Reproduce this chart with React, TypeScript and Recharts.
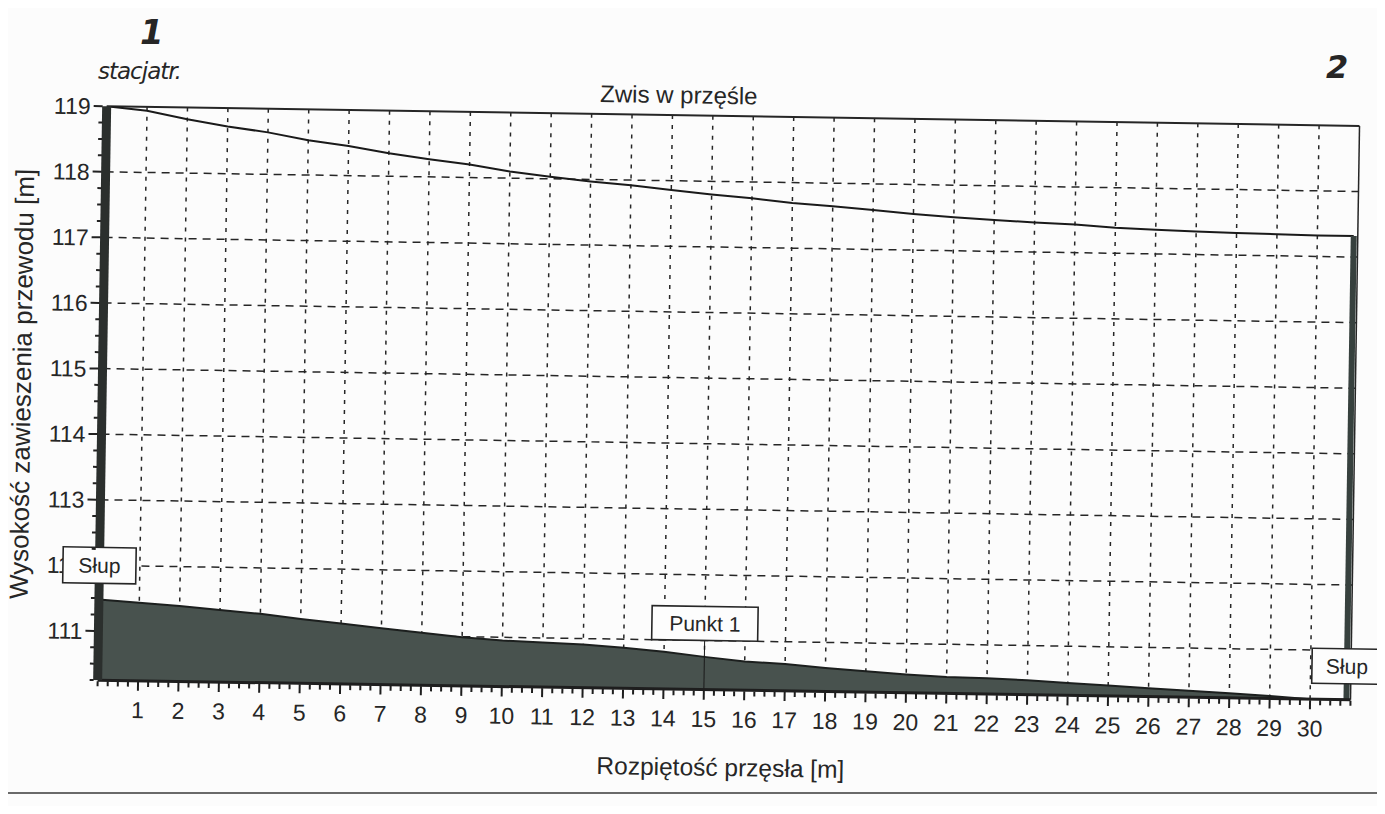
import React from 'react';
import {
  ComposedChart,
  Area,
  Line,
  XAxis,
  YAxis,
  CartesianGrid,
  ReferenceLine,
  ReferenceDot,
} from 'recharts';

// span position [m] and the two profiles
const spanX = [0, 1, 2, 3, 4, 5, 6, 7, 8, 9, 10, 11, 12, 13, 14, 15, 16, 17, 18, 19, 20, 21, 22, 23, 24, 25, 26, 27, 28, 29, 30, 30.9];
const conductor = [
  119.0, 118.94, 118.82, 118.72, 118.64, 118.53, 118.45, 118.35, 118.27, 118.2, 118.1,
  118.03, 117.97, 117.92, 117.86, 117.8, 117.75, 117.69, 117.65, 117.6, 117.55,
  117.51, 117.48, 117.45, 117.43, 117.39, 117.37, 117.35, 117.34, 117.33, 117.32, 117.32,
];
const ground = [
  111.48, 111.44, 111.4, 111.35, 111.3, 111.23, 111.17, 111.11, 111.05, 110.99, 110.95,
  110.93, 110.91, 110.87, 110.82, 110.75, 110.69, 110.66, 110.61, 110.57, 110.53,
  110.5, 110.49, 110.47, 110.44, 110.41, 110.38, 110.35, 110.32, 110.29, 110.25, 110.25,
];

const xTickValues = [1, 2, 3, 4, 5, 6, 7, 8, 9, 10, 11, 12, 13, 14, 15, 16, 17, 18, 19, 20, 21, 22, 23, 24, 25, 26, 27, 28, 29, 30];
const yTickValues = [111, 112, 113, 114, 115, 116, 117, 118, 119];
const xDomain = [0, 31];
const yDomain = [110.25, 119];

// annotations
const poleLabel = 'Słup';
const poleLabelY = [112, 110.76];
const pointLabel = 'Punkt 1';
const pointX = 15;
const pointLabelY = 111;

const rows = spanX.map((x, i) => ({ x, conductor: conductor[i], ground: ground[i] }));

// minor ticks every 0.25 m
const minorX = Array.from({ length: 125 }, (_, i) => i * 0.25);
const minorY = Array.from({ length: 36 }, (_, i) => yDomain[0] + i * 0.25);

const FONT = '"Liberation Sans", Arial, sans-serif';
const INK = '#262626';
const TICK_FONT = 23;

const LabelBox = ({ cx, cy, text, w, h, anchor }: any) => {
  const top = anchor === 'above' ? cy - h : cy - h / 2;
  return (
    <g>
      <rect x={cx - w / 2} y={top} width={w} height={h} fill="#fdfdfd" stroke={INK} strokeWidth={1.6} />
      <text x={cx} y={top + h / 2} dy="0.36em" textAnchor="middle" fontSize={21} fontFamily={FONT} fill={INK}>
        {text}
      </text>
    </g>
  );
};

// the x tick comb (majors longer) is drawn together with the labels
const renderXTick = (props: any) => {
  const { x, y, payload } = props;
  const v = payload.value;
  const major = xTickValues.includes(v);
  return (
    <g key={`xt-${v}`}>
      <rect x={x - 1} y={y + 1} width={2} height={major ? 9 : 5} fill="#1e1e1e" />
      {major && (
        <text x={x} y={y + 21} dy="0.71em" textAnchor="middle" fontSize={TICK_FONT} fontFamily={FONT} fill={INK}>
          {v}
        </text>
      )}
    </g>
  );
};

const renderYTick = (props: any) => {
  const { x, y, payload } = props;
  const v = payload.value;
  const major = yTickValues.includes(v);
  return (
    <g key={`yt-${v}`}>
      <path d={`M${x - 4},${y}H${x - (major ? 13 : 8)}`} stroke="#222" strokeWidth={2} fill="none" />
      {major && (
        <text x={x - 16} y={y} dy="0.36em" textAnchor="end" fontSize={TICK_FONT} fontFamily={FONT} fill={INK}>
          {v}
        </text>
      )}
      {v === poleLabelY[0] && <LabelBox cx={x} cy={y} text={poleLabel} w={73} h={36} anchor="center" />}
    </g>
  );
};

export default function App() {
  const rightX = spanX[spanX.length - 1];
  const rightTop = conductor[conductor.length - 1];

  return (
    <div style={{ margin: -8, width: 1385, height: 814, position: 'relative', overflow: 'hidden', background: '#fcfcfc', fontFamily: FONT, color: INK }}>
      {/* the printout sits slightly skewed on the scanner */}
      <div style={{ position: 'absolute', left: 0, top: 0, width: 1385, height: 814, transform: 'rotate(0.9deg)', transformOrigin: '727px 408px' }}>
        <div style={{ position: 'absolute', left: 674, top: 96, transform: 'translate(-50%, -50%)', fontSize: 24, whiteSpace: 'nowrap' }}>
          Zwis w przęśle
        </div>
        <div style={{ position: 'absolute', left: 726, top: 768, transform: 'translate(-50%, -50%)', fontSize: 24.5, whiteSpace: 'nowrap' }}>
          Rozpiętość przęsła [m]
        </div>
        <div style={{ position: 'absolute', left: 22, top: 395, transform: 'translate(-50%, -50%) rotate(-90deg)', fontSize: 26, whiteSpace: 'nowrap' }}>
          Wysokość zawieszenia przewodu [m]
        </div>

        <ComposedChart width={1385} height={814} data={rows} margin={{ top: 116, right: 30, bottom: 84, left: 42 }}>
          <CartesianGrid horizontal={false} verticalValues={xTickValues} stroke={INK} strokeWidth={1.5} strokeDasharray="4 6" />
          <CartesianGrid vertical={false} horizontalValues={yTickValues.slice(0, -1)} stroke={INK} strokeWidth={1.5} strokeDasharray="8 6" />
          <ReferenceLine y={yDomain[1]} stroke={INK} strokeWidth={2} />
          <ReferenceLine x={xDomain[1]} stroke={INK} strokeWidth={1.5} />
          <Area
            type="linear"
            dataKey="ground"
            baseValue={yDomain[0]}
            stroke="#1c1f1e"
            strokeWidth={2}
            fill="#48524e"
            fillOpacity={1}
            isAnimationActive={false}
          />
          <Line type="linear" dataKey="conductor" stroke="#1a1a1a" strokeWidth={2} dot={false} isAnimationActive={false} />
          <ReferenceLine segment={[{ x: rightX, y: yDomain[0] }, { x: rightX, y: rightTop }]} stroke="#37413e" strokeWidth={6} />
          <ReferenceLine segment={[{ x: pointX, y: yDomain[0] }, { x: pointX, y: pointLabelY }]} stroke="#1a1a1a" strokeWidth={1} />
          <ReferenceDot x={pointX} y={pointLabelY} r={0} ifOverflow="visible"
            shape={(p: any) => <LabelBox cx={p.cx} cy={p.cy} text={pointLabel} w={106} h={34} anchor="above" />} />
          <ReferenceDot x={rightX} y={poleLabelY[1]} r={0} ifOverflow="visible"
            shape={(p: any) => <LabelBox cx={p.cx} cy={p.cy} text={poleLabel} w={70} h={35} anchor="center" />} />
          <XAxis
            dataKey="x"
            type="number"
            domain={xDomain}
            ticks={minorX}
            interval={0}
            height={40}
            tickLine={false}
            tickSize={0}
            tickMargin={0}
            tick={renderXTick}
            axisLine={{ stroke: '#1e1e1e', strokeWidth: 3 }}
            allowDataOverflow
          />
          {/* the left support is drawn as the thick y axis line */}
          <YAxis
            type="number"
            domain={yDomain}
            ticks={minorY}
            interval={0}
            width={60}
            tickLine={false}
            tickSize={0}
            tickMargin={0}
            tick={renderYTick}
            axisLine={{ stroke: '#2b2f2d', strokeWidth: 9 }}
            allowDataOverflow
          />
        </ComposedChart>
      </div>

      {/* handwritten notes on the printout */}
      <div style={{ position: 'absolute', left: 140, top: 12, fontSize: 34, fontStyle: 'italic', fontWeight: 'bold', fontFamily: '"DejaVu Sans", sans-serif' }}>1</div>
      <div style={{ position: 'absolute', left: 98, top: 58, fontSize: 23, fontStyle: 'italic', fontFamily: '"DejaVu Sans", sans-serif', letterSpacing: -1 }}>stacjatr.</div>
      <div style={{ position: 'absolute', left: 1326, top: 48, fontSize: 32, fontStyle: 'italic', fontWeight: 'bold', fontFamily: '"DejaVu Sans", sans-serif' }}>2</div>
      <div style={{ position: 'absolute', left: 0, top: 792, width: 1385, height: 2, background: '#6a6a6a' }} />
    </div>
  );
}
